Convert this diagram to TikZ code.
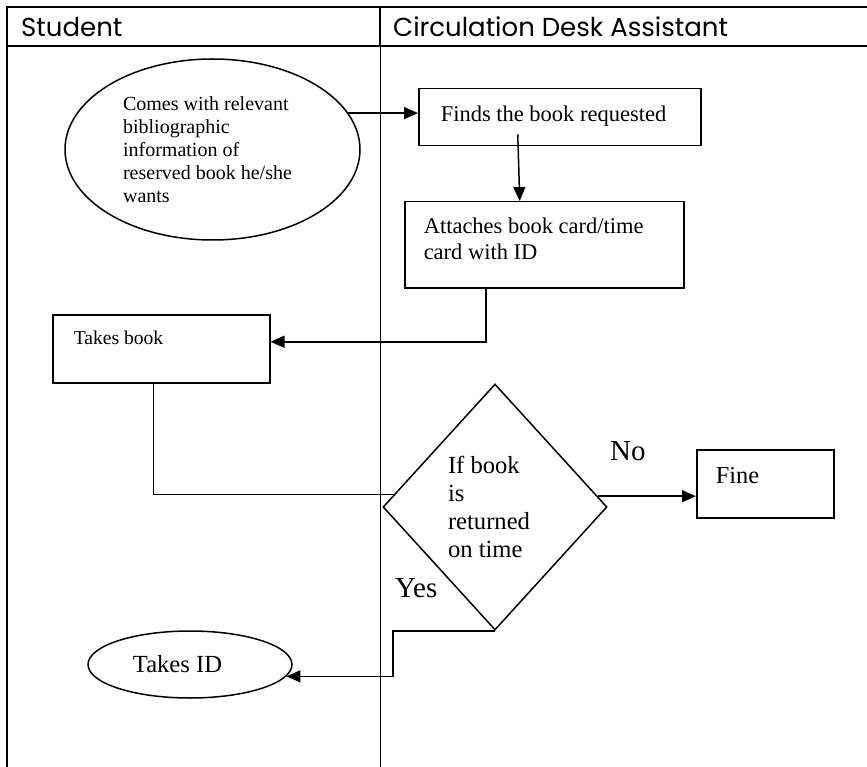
\documentclass[tikz,border=0pt]{standalone}
\usepackage{fontspec}
\setmainfont{Liberation Serif}
\newfontfamily\lanefont{Poppins}
\usetikzlibrary{shapes.geometric,arrows.meta}

% box text: width, height, left padding, top padding, lines
\newcommand{\boxtext}[5]{\parbox[c][#2][t]{#1}{\raggedright\setlength{\leftskip}{#3}\vspace*{#4}\strut #5}}
% invisible right padding that survives the end of a line
\newcommand{\padright}[1]{\rule{#1}{0pt}}

\tikzset{
  lanerule/.style={line width=2.4pt},
  laneinner/.style={line width=1pt},
  lanehead/.style={font=\lanefont\fontsize{26}{30}\selectfont, anchor=base west, inner sep=0pt},
  procbox/.style={draw, rectangle, line width=1.5pt, inner sep=0pt, anchor=north west},
  terminal/.style={draw, ellipse, line width=1.5pt, inner sep=0pt},
  decision/.style={draw, diamond, line width=1.5pt, inner sep=0pt},
  flow/.style={line width=1.5pt},
  arr/.style={flow, -{Triangle[length=14pt,width=12pt]}},
  branchlbl/.style={font=\fontsize{29}{33}\selectfont, anchor=base west, inner sep=0pt}
}

\begin{document}
\begin{tikzpicture}[x=1pt,y=-1pt]
\useasboundingbox (0,0) rectangle (867,767);

% swimlane frame
\draw[lanerule] (7,7) -- (867,7);
\draw[lanerule] (7,46) -- (867,46);
\draw[line width=2.2pt] (7,6) -- (7,767);
\draw[line width=2pt] (380,7) -- (380,46);
\draw[laneinner] (380,46) -- (380,767);

\node[lanehead] (hstudent) at (21,37) {Student};
\node[lanehead] (hdesk) at (393,37) {Circulation Desk Assistant};

% student lane
\node[terminal, minimum width=295pt, minimum height=181pt, align=left,
      font=\fontsize{20}{23}\selectfont] (need) at (212.5,149.5)
  {Comes with relevant\\bibliographic\\information of\\reserved book he/she\padright{10pt}\\wants};

\node[procbox, font=\fontsize{19.6}{22.5}\selectfont] (takebook) at (52,314)
  {\boxtext{217pt}{68pt}{21pt}{14pt}{Takes book}};

\node[terminal, minimum width=204pt, minimum height=67pt,
      font=\fontsize{24.6}{28}\selectfont] (takeid) at (190,664.5)
  {Takes ID\padright{25pt}};

% desk lane
\node[procbox, font=\fontsize{22.5}{26}\selectfont] (finds) at (418,88)
  {\boxtext{282pt}{57pt}{22pt}{14.5pt}{Finds the book requested}};

\node[procbox, font=\fontsize{22.5}{26}\selectfont] (attach) at (404,201)
  {\boxtext{279pt}{86pt}{19pt}{13.8pt}{Attaches book card/time\\card with ID}};

\node[decision, minimum width=224pt, minimum height=246pt, align=left,
      font=\fontsize{24.6}{28.3}\selectfont] (ontime) at (495,507)
  {If book\\is\\returned\padright{12pt}\\on time};

\node[procbox, font=\fontsize{24.4}{28}\selectfont] (fine) at (696,449)
  {\boxtext{137pt}{68pt}{19pt}{14.4pt}{Fine}};

\node[branchlbl] (nolbl) at (610,460) {No};
\node[branchlbl] (yeslbl) at (395,597) {Yes};

% connectors
\draw[arr] (need.15) -- (need.15 -| finds.west);
\draw[arr] ([xshift=-42pt,yshift=12pt]finds.south) -- ([xshift=-24.5pt]attach.north);
\draw[arr] ([xshift=-58.5pt]attach.south) |- ([yshift=7pt]takebook.east);
\draw[flow] ([xshift=-8pt]takebook.south) |- (ontime.173);
\draw[arr] (ontime.6) -- (ontime.6 -| fine.west);
\draw[arr] (ontime.south) -- ++(-102,0) |- (takeid.-7);
\end{tikzpicture}
\end{document}
